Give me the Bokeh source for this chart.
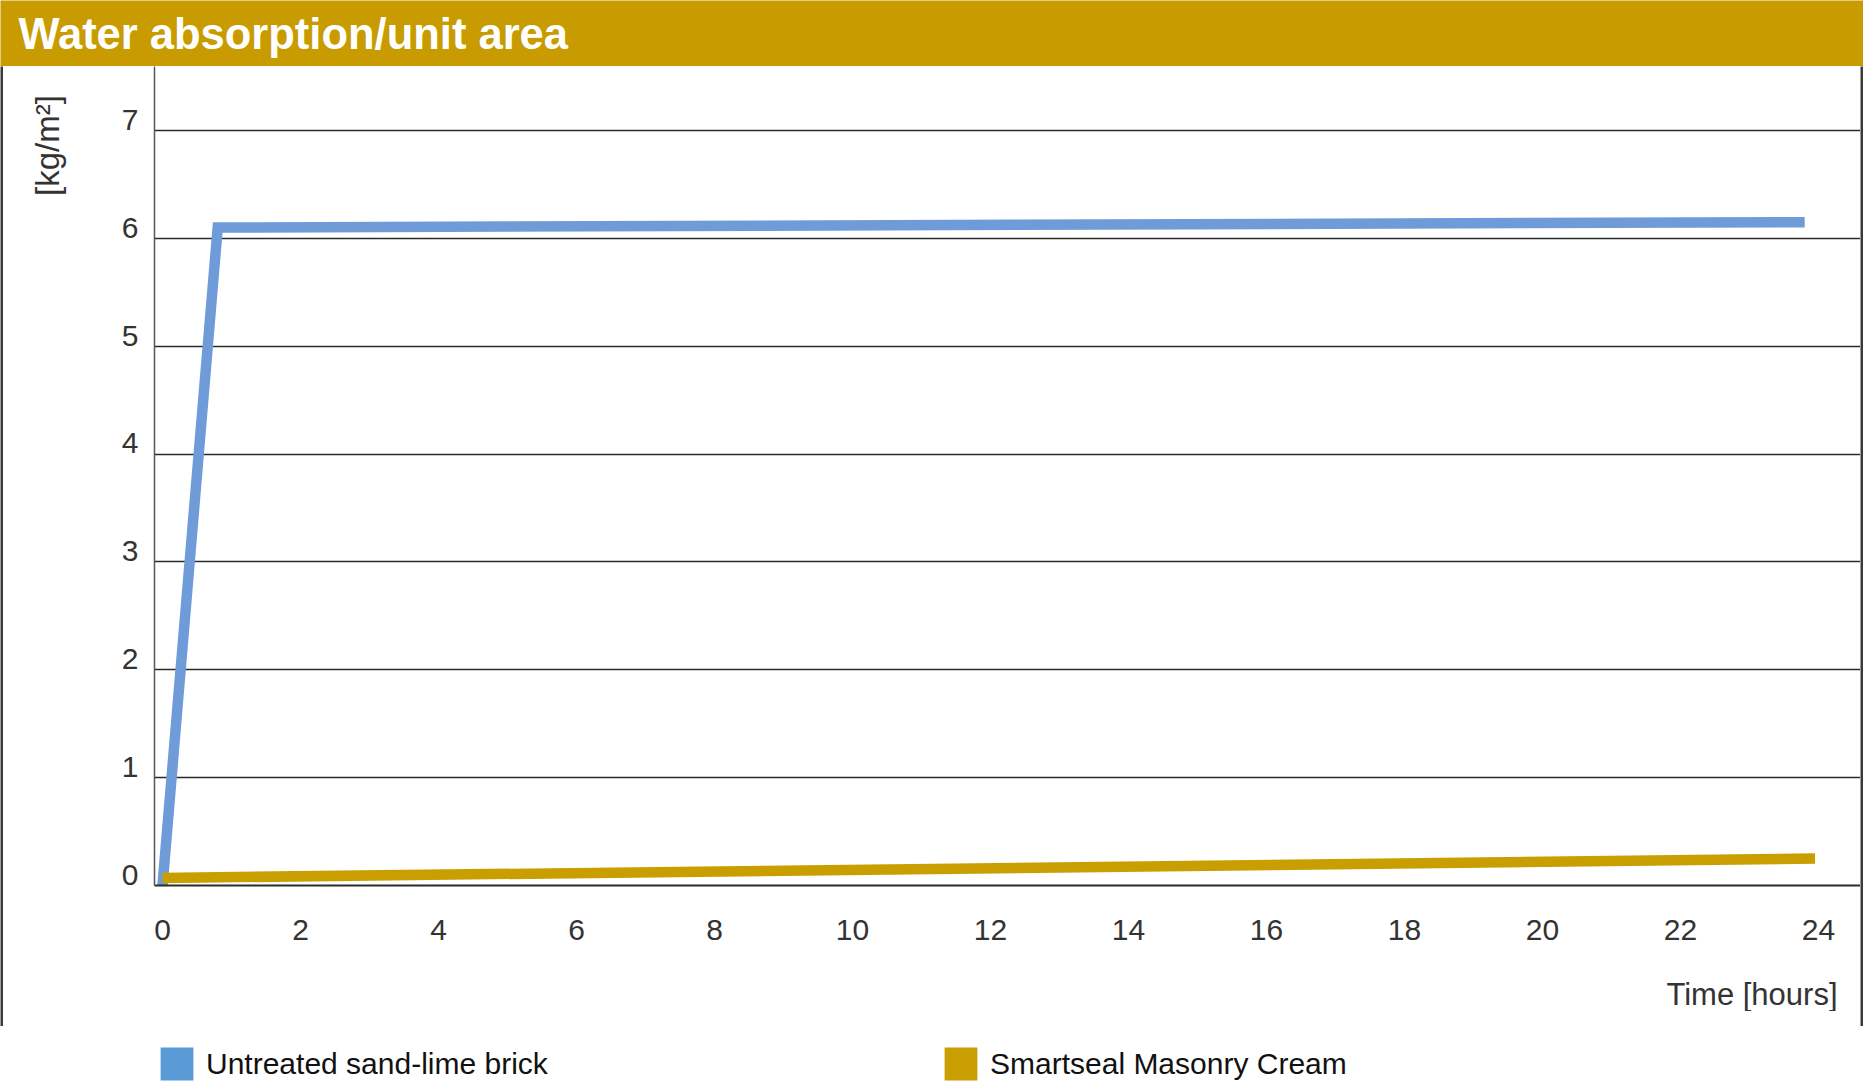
from bokeh.plotting import figure
from bokeh.models import (Range1d, LinearAxis, FixedTicker, Grid, Label, Legend, LegendItem)
from bokeh.layouts import column, row
from bokeh.embed import file_html
from bokeh.resources import INLINE
from bokeh.core.validation import silence
from bokeh.core.validation.warnings import MISSING_RENDERERS

silence(MISSING_RENDERERS, True)

# ---------------- data ----------------
title_text = "Water absorption/unit area"
y_label = "[kg/m²]"
x_label = "Time [hours]"
series_names = ["Untreated sand-lime brick", "Smartseal Masonry Cream"]
hour_ticks = [0, 2, 4, 6, 8, 10, 12, 14, 16, 18, 20, 22, 24]
kg_ticks = [0, 1, 2, 3, 4, 5, 6, 7]
untreated_hours = [0, 0.8, 23.8]
untreated_kg = [0.0, 6.1, 6.15]
smartseal_hours = [0, 23.95]
smartseal_kg = [0.07, 0.25]

# ---------------- styles ----------------
FONT = "Liberation Sans"
GOLD_HEAD = "#C89C00"
GOLD = "#C99E00"
BLUE_LINE = "#6F9CD8"
BLUE_SWATCH = "#5B9BD5"
DARK = "#2b2b2b"
TXT = "#333333"
W = 1863
MAIN_H = 911


def bare(width, height, color):
    f = figure(width=width, height=height, min_border=0, toolbar_location=None,
               x_axis_location=None, y_axis_location=None, output_backend="svg",
               x_range=Range1d(0, 1), y_range=Range1d(0, 1))
    f.background_fill_color = color
    f.border_fill_color = color
    f.outline_line_color = None
    f.grid.visible = False
    return f


# header band (text centred vertically on y=33 of a 66 px band)
header = bare(W, 66, GOLD_HEAD)
header.add_layout(Label(x=18, y=33, x_units="screen", y_units="screen", text=title_text,
                        text_font=FONT, text_font_style="bold", text_font_size="43.5px",
                        text_color="white", text_baseline="middle"))

# y-axis title column
ylab_fig = bare(100, 158, "white")
ylab_fig.add_layout(Label(x=44, y=79, x_units="screen", y_units="screen", text=y_label,
                          angle=1.5707963, text_align="center", text_baseline="middle",
                          text_font=FONT, text_font_size="33px", text_color=TXT))
ylab_blank = bare(100, MAIN_H - 158, "white")

# main chart
px_per_hour = 69.0
x0_px = 8.0
ppu = 107.86
frame_h = 819
y_end = frame_h / ppu
x_start = -x0_px / px_per_hour
x_end = x_start + 1706 / px_per_hour

p = figure(width=1757, height=MAIN_H, toolbar_location=None, output_backend="svg",
           x_range=Range1d(x_start, x_end), y_range=Range1d(0, y_end),
           y_axis_location=None, min_border_left=51, min_border_right=0,
           min_border_top=0, min_border_bottom=MAIN_H - frame_h)
p.outline_line_color = None
p.background_fill_color = "white"
p.border_fill_color = "white"
p.grid.visible = False

shift = 10.7 / ppu
p.extra_y_ranges = {"lab": Range1d(-shift, y_end - shift)}
yax = LinearAxis(y_range_name="lab", ticker=FixedTicker(ticks=kg_ticks),
                 axis_line_color="#555555", axis_line_width=1.5,
                 major_tick_in=0, major_tick_out=0, minor_tick_in=0, minor_tick_out=0,
                 major_tick_line_color=None, minor_tick_line_color=None,
                 major_label_standoff=16, major_label_text_font=FONT,
                 major_label_text_font_size="30px", major_label_text_color=TXT)
p.add_layout(yax, "left")

p.add_layout(Grid(dimension=1, ticker=FixedTicker(ticks=kg_ticks[1:]),
                  grid_line_color=DARK, grid_line_width=1.6))

xax = p.xaxis[0]
xax.ticker = FixedTicker(ticks=hour_ticks)
xax.axis_line_color = DARK
xax.axis_line_width = 2
xax.major_tick_in = 0
xax.major_tick_out = 0
xax.minor_tick_in = 0
xax.minor_tick_out = 0
xax.major_tick_line_color = None
xax.minor_tick_line_color = None
xax.major_label_standoff = 34
xax.major_label_text_font = FONT
xax.major_label_text_font_size = "30px"
xax.major_label_text_color = TXT

p.line(untreated_hours, untreated_kg, line_width=10.5, line_color=BLUE_LINE, line_join="miter")
p.line(smartseal_hours, smartseal_kg, line_width=10.5, line_color=GOLD, line_join="miter")

# x-axis title strip (centre at y=17 of a 34 px strip)
time_fig = bare(1857, 34, "white")
time_fig.add_layout(Label(x=1834, y=17, x_units="screen", y_units="screen", text=x_label,
                          text_align="right", text_baseline="middle",
                          text_font=FONT, text_font_size="31px", text_color=TXT))
spacer = bare(1857, 960 - MAIN_H - 34, "white")

lstrip = bare(3, 960, "#3a3a3a")
rstrip = bare(3, 960, "#3a3a3a")
bline = bare(W, 4, "#1a1a1a")

# legend band
leg = bare(W, 54, "white")
r1 = leg.quad(left=[-3], right=[-2], top=[-2], bottom=[-3], fill_color=BLUE_SWATCH, line_color=None)
r2 = leg.quad(left=[-3], right=[-2], top=[-2], bottom=[-3], fill_color=GOLD, line_color=None)
for rend, name, loc in [(r1, series_names[0], (156, 0)), (r2, series_names[1], (940, 0))]:
    lg = Legend(items=[LegendItem(label=name, renderers=[rend])], location=loc,
                orientation="horizontal", glyph_width=41, glyph_height=41,
                label_standoff=9, padding=0, margin=0, border_line_color=None,
                background_fill_alpha=0, label_text_font=FONT,
                label_text_font_size="30px", label_text_color="#111111")
    leg.add_layout(lg)

body = row(lstrip,
           column(row(column(ylab_fig, ylab_blank), p), time_fig, spacer),
           rstrip)
layout = column(header, body, bline, leg)
open("out.html", "w").write(file_html(layout, INLINE))
